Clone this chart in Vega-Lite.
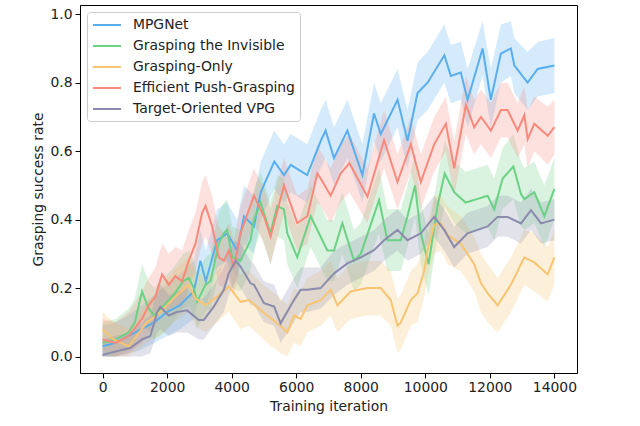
{
  "$schema": "https://vega.github.io/schema/vega-lite/v6.json",
  "width": 497,
  "height": 368,
  "autosize": {"type": "none"},
  "padding": {"left": 80, "top": 5, "right": 63, "bottom": 53},
  "background": "white",
  "datasets": {
    "runs": [
      {"s": "MPGNet", "it": 0, "v": 0.03, "lo": 0.0, "hi": 0.09},
      {"s": "MPGNet", "it": 400, "v": 0.04, "lo": 0.0, "hi": 0.10},
      {"s": "MPGNet", "it": 800, "v": 0.06, "lo": 0.01, "hi": 0.12},
      {"s": "MPGNet", "it": 1200, "v": 0.08, "lo": 0.02, "hi": 0.15},
      {"s": "MPGNet", "it": 1600, "v": 0.10, "lo": 0.04, "hi": 0.18},
      {"s": "MPGNet", "it": 2000, "v": 0.13, "lo": 0.06, "hi": 0.21},
      {"s": "MPGNet", "it": 2400, "v": 0.15, "lo": 0.08, "hi": 0.24},
      {"s": "MPGNet", "it": 2825, "v": 0.19, "lo": 0.11, "hi": 0.28},
      {"s": "MPGNet", "it": 3030, "v": 0.28, "lo": 0.19, "hi": 0.37},
      {"s": "MPGNet", "it": 3200, "v": 0.22, "lo": 0.14, "hi": 0.31},
      {"s": "MPGNet", "it": 3550, "v": 0.34, "lo": 0.26, "hi": 0.43},
      {"s": "MPGNet", "it": 3860, "v": 0.36, "lo": 0.28, "hi": 0.45},
      {"s": "MPGNet", "it": 4170, "v": 0.31, "lo": 0.23, "hi": 0.40},
      {"s": "MPGNet", "it": 4380, "v": 0.41, "lo": 0.33, "hi": 0.50},
      {"s": "MPGNet", "it": 4690, "v": 0.38, "lo": 0.30, "hi": 0.47},
      {"s": "MPGNet", "it": 4900, "v": 0.48, "lo": 0.40, "hi": 0.57},
      {"s": "MPGNet", "it": 5320, "v": 0.57, "lo": 0.49, "hi": 0.66},
      {"s": "MPGNet", "it": 5620, "v": 0.53, "lo": 0.45, "hi": 0.62},
      {"s": "MPGNet", "it": 5830, "v": 0.56, "lo": 0.48, "hi": 0.65},
      {"s": "MPGNet", "it": 6340, "v": 0.53, "lo": 0.45, "hi": 0.62},
      {"s": "MPGNet", "it": 6760, "v": 0.63, "lo": 0.55, "hi": 0.72},
      {"s": "MPGNet", "it": 6910, "v": 0.66, "lo": 0.58, "hi": 0.75},
      {"s": "MPGNet", "it": 7170, "v": 0.58, "lo": 0.50, "hi": 0.67},
      {"s": "MPGNet", "it": 7585, "v": 0.66, "lo": 0.58, "hi": 0.75},
      {"s": "MPGNet", "it": 8050, "v": 0.53, "lo": 0.45, "hi": 0.62},
      {"s": "MPGNet", "it": 8410, "v": 0.71, "lo": 0.63, "hi": 0.80},
      {"s": "MPGNet", "it": 8620, "v": 0.65, "lo": 0.57, "hi": 0.74},
      {"s": "MPGNet", "it": 9140, "v": 0.75, "lo": 0.67, "hi": 0.84},
      {"s": "MPGNet", "it": 9450, "v": 0.63, "lo": 0.55, "hi": 0.72},
      {"s": "MPGNet", "it": 9760, "v": 0.77, "lo": 0.69, "hi": 0.86},
      {"s": "MPGNet", "it": 10070, "v": 0.80, "lo": 0.72, "hi": 0.89},
      {"s": "MPGNet", "it": 10590, "v": 0.88, "lo": 0.80, "hi": 0.97},
      {"s": "MPGNet", "it": 10790, "v": 0.82, "lo": 0.74, "hi": 0.91},
      {"s": "MPGNet", "it": 11100, "v": 0.83, "lo": 0.75, "hi": 0.92},
      {"s": "MPGNet", "it": 11310, "v": 0.75, "lo": 0.67, "hi": 0.84},
      {"s": "MPGNet", "it": 11775, "v": 0.90, "lo": 0.82, "hi": 0.98},
      {"s": "MPGNet", "it": 12030, "v": 0.75, "lo": 0.67, "hi": 0.84},
      {"s": "MPGNet", "it": 12340, "v": 0.885, "lo": 0.80, "hi": 0.97},
      {"s": "MPGNet", "it": 12650, "v": 0.90, "lo": 0.82, "hi": 0.98},
      {"s": "MPGNet", "it": 12760, "v": 0.85, "lo": 0.77, "hi": 0.93},
      {"s": "MPGNet", "it": 13170, "v": 0.80, "lo": 0.72, "hi": 0.89},
      {"s": "MPGNet", "it": 13480, "v": 0.84, "lo": 0.76, "hi": 0.92},
      {"s": "MPGNet", "it": 14000, "v": 0.85, "lo": 0.77, "hi": 0.93},

      {"s": "Grasping the Invisible", "it": 0, "v": 0.04, "lo": 0.0, "hi": 0.10},
      {"s": "Grasping the Invisible", "it": 400, "v": 0.05, "lo": 0.0, "hi": 0.11},
      {"s": "Grasping the Invisible", "it": 800, "v": 0.07, "lo": 0.02, "hi": 0.14},
      {"s": "Grasping the Invisible", "it": 1000, "v": 0.10, "lo": 0.04, "hi": 0.17},
      {"s": "Grasping the Invisible", "it": 1220, "v": 0.19, "lo": 0.11, "hi": 0.27},
      {"s": "Grasping the Invisible", "it": 1430, "v": 0.14, "lo": 0.07, "hi": 0.22},
      {"s": "Grasping the Invisible", "it": 1600, "v": 0.12, "lo": 0.05, "hi": 0.20},
      {"s": "Grasping the Invisible", "it": 1900, "v": 0.15, "lo": 0.07, "hi": 0.23},
      {"s": "Grasping the Invisible", "it": 2200, "v": 0.18, "lo": 0.10, "hi": 0.26},
      {"s": "Grasping the Invisible", "it": 2500, "v": 0.22, "lo": 0.14, "hi": 0.30},
      {"s": "Grasping the Invisible", "it": 2670, "v": 0.23, "lo": 0.15, "hi": 0.31},
      {"s": "Grasping the Invisible", "it": 2825, "v": 0.20, "lo": 0.12, "hi": 0.28},
      {"s": "Grasping the Invisible", "it": 2930, "v": 0.16, "lo": 0.08, "hi": 0.24},
      {"s": "Grasping the Invisible", "it": 3190, "v": 0.21, "lo": 0.13, "hi": 0.29},
      {"s": "Grasping the Invisible", "it": 3343, "v": 0.22, "lo": 0.14, "hi": 0.30},
      {"s": "Grasping the Invisible", "it": 3600, "v": 0.33, "lo": 0.24, "hi": 0.42},
      {"s": "Grasping the Invisible", "it": 3757, "v": 0.36, "lo": 0.27, "hi": 0.45},
      {"s": "Grasping the Invisible", "it": 3860, "v": 0.37, "lo": 0.28, "hi": 0.46},
      {"s": "Grasping the Invisible", "it": 4015, "v": 0.29, "lo": 0.20, "hi": 0.38},
      {"s": "Grasping the Invisible", "it": 4274, "v": 0.28, "lo": 0.19, "hi": 0.37},
      {"s": "Grasping the Invisible", "it": 4584, "v": 0.34, "lo": 0.25, "hi": 0.43},
      {"s": "Grasping the Invisible", "it": 4690, "v": 0.40, "lo": 0.31, "hi": 0.49},
      {"s": "Grasping the Invisible", "it": 4895, "v": 0.45, "lo": 0.36, "hi": 0.54},
      {"s": "Grasping the Invisible", "it": 5200, "v": 0.36, "lo": 0.27, "hi": 0.45},
      {"s": "Grasping the Invisible", "it": 5412, "v": 0.44, "lo": 0.35, "hi": 0.53},
      {"s": "Grasping the Invisible", "it": 5620, "v": 0.43, "lo": 0.34, "hi": 0.52},
      {"s": "Grasping the Invisible", "it": 5723, "v": 0.36, "lo": 0.27, "hi": 0.45},
      {"s": "Grasping the Invisible", "it": 6033, "v": 0.29, "lo": 0.20, "hi": 0.38},
      {"s": "Grasping the Invisible", "it": 6447, "v": 0.41, "lo": 0.32, "hi": 0.50},
      {"s": "Grasping the Invisible", "it": 6964, "v": 0.31, "lo": 0.22, "hi": 0.40},
      {"s": "Grasping the Invisible", "it": 7170, "v": 0.31, "lo": 0.22, "hi": 0.40},
      {"s": "Grasping the Invisible", "it": 7430, "v": 0.39, "lo": 0.30, "hi": 0.48},
      {"s": "Grasping the Invisible", "it": 7790, "v": 0.28, "lo": 0.19, "hi": 0.37},
      {"s": "Grasping the Invisible", "it": 8000, "v": 0.30, "lo": 0.21, "hi": 0.39},
      {"s": "Grasping the Invisible", "it": 8566, "v": 0.457, "lo": 0.36, "hi": 0.55},
      {"s": "Grasping the Invisible", "it": 8826, "v": 0.34, "lo": 0.25, "hi": 0.43},
      {"s": "Grasping the Invisible", "it": 9240, "v": 0.34, "lo": 0.25, "hi": 0.43},
      {"s": "Grasping the Invisible", "it": 9447, "v": 0.41, "lo": 0.32, "hi": 0.50},
      {"s": "Grasping the Invisible", "it": 9680, "v": 0.50, "lo": 0.41, "hi": 0.59},
      {"s": "Grasping the Invisible", "it": 9860, "v": 0.36, "lo": 0.27, "hi": 0.45},
      {"s": "Grasping the Invisible", "it": 10100, "v": 0.27, "lo": 0.18, "hi": 0.36},
      {"s": "Grasping the Invisible", "it": 10378, "v": 0.44, "lo": 0.35, "hi": 0.53},
      {"s": "Grasping the Invisible", "it": 10600, "v": 0.535, "lo": 0.44, "hi": 0.63},
      {"s": "Grasping the Invisible", "it": 10895, "v": 0.48, "lo": 0.39, "hi": 0.57},
      {"s": "Grasping the Invisible", "it": 11250, "v": 0.45, "lo": 0.36, "hi": 0.54},
      {"s": "Grasping the Invisible", "it": 11600, "v": 0.46, "lo": 0.37, "hi": 0.55},
      {"s": "Grasping the Invisible", "it": 11930, "v": 0.47, "lo": 0.38, "hi": 0.56},
      {"s": "Grasping the Invisible", "it": 12136, "v": 0.43, "lo": 0.34, "hi": 0.52},
      {"s": "Grasping the Invisible", "it": 12395, "v": 0.52, "lo": 0.43, "hi": 0.61},
      {"s": "Grasping the Invisible", "it": 12730, "v": 0.555, "lo": 0.46, "hi": 0.65},
      {"s": "Grasping the Invisible", "it": 12964, "v": 0.475, "lo": 0.38, "hi": 0.57},
      {"s": "Grasping the Invisible", "it": 13068, "v": 0.46, "lo": 0.37, "hi": 0.55},
      {"s": "Grasping the Invisible", "it": 13378, "v": 0.48, "lo": 0.39, "hi": 0.57},
      {"s": "Grasping the Invisible", "it": 13688, "v": 0.41, "lo": 0.32, "hi": 0.50},
      {"s": "Grasping the Invisible", "it": 14000, "v": 0.49, "lo": 0.40, "hi": 0.58},

      {"s": "Grasping-Only", "it": 0, "v": 0.08, "lo": 0.02, "hi": 0.13},
      {"s": "Grasping-Only", "it": 340, "v": 0.05, "lo": 0.0, "hi": 0.10},
      {"s": "Grasping-Only", "it": 810, "v": 0.03, "lo": 0.0, "hi": 0.08},
      {"s": "Grasping-Only", "it": 1375, "v": 0.10, "lo": 0.04, "hi": 0.16},
      {"s": "Grasping-Only", "it": 1530, "v": 0.11, "lo": 0.05, "hi": 0.17},
      {"s": "Grasping-Only", "it": 1790, "v": 0.13, "lo": 0.06, "hi": 0.20},
      {"s": "Grasping-Only", "it": 2200, "v": 0.17, "lo": 0.10, "hi": 0.25},
      {"s": "Grasping-Only", "it": 2670, "v": 0.21, "lo": 0.13, "hi": 0.29},
      {"s": "Grasping-Only", "it": 2878, "v": 0.17, "lo": 0.09, "hi": 0.25},
      {"s": "Grasping-Only", "it": 3190, "v": 0.15, "lo": 0.07, "hi": 0.23},
      {"s": "Grasping-Only", "it": 3550, "v": 0.175, "lo": 0.10, "hi": 0.25},
      {"s": "Grasping-Only", "it": 3910, "v": 0.205, "lo": 0.13, "hi": 0.28},
      {"s": "Grasping-Only", "it": 4274, "v": 0.16, "lo": 0.08, "hi": 0.24},
      {"s": "Grasping-Only", "it": 4532, "v": 0.165, "lo": 0.09, "hi": 0.25},
      {"s": "Grasping-Only", "it": 5100, "v": 0.12, "lo": 0.04, "hi": 0.20},
      {"s": "Grasping-Only", "it": 5515, "v": 0.09, "lo": 0.01, "hi": 0.17},
      {"s": "Grasping-Only", "it": 5723, "v": 0.07, "lo": 0.0, "hi": 0.15},
      {"s": "Grasping-Only", "it": 5930, "v": 0.12, "lo": 0.04, "hi": 0.20},
      {"s": "Grasping-Only", "it": 6136, "v": 0.11, "lo": 0.03, "hi": 0.19},
      {"s": "Grasping-Only", "it": 6344, "v": 0.15, "lo": 0.07, "hi": 0.23},
      {"s": "Grasping-Only", "it": 6757, "v": 0.165, "lo": 0.09, "hi": 0.25},
      {"s": "Grasping-Only", "it": 7068, "v": 0.195, "lo": 0.12, "hi": 0.28},
      {"s": "Grasping-Only", "it": 7275, "v": 0.15, "lo": 0.07, "hi": 0.23},
      {"s": "Grasping-Only", "it": 7688, "v": 0.19, "lo": 0.11, "hi": 0.27},
      {"s": "Grasping-Only", "it": 8205, "v": 0.20, "lo": 0.12, "hi": 0.28},
      {"s": "Grasping-Only", "it": 8618, "v": 0.20, "lo": 0.12, "hi": 0.28},
      {"s": "Grasping-Only", "it": 8929, "v": 0.165, "lo": 0.09, "hi": 0.25},
      {"s": "Grasping-Only", "it": 9137, "v": 0.09, "lo": 0.01, "hi": 0.17},
      {"s": "Grasping-Only", "it": 9240, "v": 0.10, "lo": 0.02, "hi": 0.18},
      {"s": "Grasping-Only", "it": 9550, "v": 0.165, "lo": 0.09, "hi": 0.25},
      {"s": "Grasping-Only", "it": 9758, "v": 0.185, "lo": 0.10, "hi": 0.27},
      {"s": "Grasping-Only", "it": 9964, "v": 0.25, "lo": 0.17, "hi": 0.33},
      {"s": "Grasping-Only", "it": 10068, "v": 0.31, "lo": 0.23, "hi": 0.39},
      {"s": "Grasping-Only", "it": 10274, "v": 0.385, "lo": 0.30, "hi": 0.47},
      {"s": "Grasping-Only", "it": 10481, "v": 0.39, "lo": 0.31, "hi": 0.47},
      {"s": "Grasping-Only", "it": 10688, "v": 0.355, "lo": 0.27, "hi": 0.44},
      {"s": "Grasping-Only", "it": 11102, "v": 0.33, "lo": 0.25, "hi": 0.41},
      {"s": "Grasping-Only", "it": 11515, "v": 0.27, "lo": 0.19, "hi": 0.35},
      {"s": "Grasping-Only", "it": 11722, "v": 0.215, "lo": 0.13, "hi": 0.30},
      {"s": "Grasping-Only", "it": 11930, "v": 0.185, "lo": 0.10, "hi": 0.27},
      {"s": "Grasping-Only", "it": 12240, "v": 0.15, "lo": 0.07, "hi": 0.23},
      {"s": "Grasping-Only", "it": 12654, "v": 0.21, "lo": 0.13, "hi": 0.29},
      {"s": "Grasping-Only", "it": 13068, "v": 0.29, "lo": 0.21, "hi": 0.37},
      {"s": "Grasping-Only", "it": 13378, "v": 0.275, "lo": 0.19, "hi": 0.36},
      {"s": "Grasping-Only", "it": 13792, "v": 0.24, "lo": 0.16, "hi": 0.32},
      {"s": "Grasping-Only", "it": 14000, "v": 0.29, "lo": 0.21, "hi": 0.37},

      {"s": "Efficient Push-Grasping", "it": 0, "v": 0.05, "lo": 0.0, "hi": 0.11},
      {"s": "Efficient Push-Grasping", "it": 400, "v": 0.04, "lo": 0.0, "hi": 0.10},
      {"s": "Efficient Push-Grasping", "it": 810, "v": 0.06, "lo": 0.01, "hi": 0.13},
      {"s": "Efficient Push-Grasping", "it": 1220, "v": 0.11, "lo": 0.04, "hi": 0.19},
      {"s": "Efficient Push-Grasping", "it": 1430, "v": 0.15, "lo": 0.07, "hi": 0.23},
      {"s": "Efficient Push-Grasping", "it": 1635, "v": 0.175, "lo": 0.09, "hi": 0.26},
      {"s": "Efficient Push-Grasping", "it": 1845, "v": 0.24, "lo": 0.15, "hi": 0.33},
      {"s": "Efficient Push-Grasping", "it": 2050, "v": 0.21, "lo": 0.13, "hi": 0.30},
      {"s": "Efficient Push-Grasping", "it": 2256, "v": 0.235, "lo": 0.15, "hi": 0.32},
      {"s": "Efficient Push-Grasping", "it": 2465, "v": 0.22, "lo": 0.14, "hi": 0.31},
      {"s": "Efficient Push-Grasping", "it": 2670, "v": 0.28, "lo": 0.20, "hi": 0.37},
      {"s": "Efficient Push-Grasping", "it": 2878, "v": 0.33, "lo": 0.25, "hi": 0.42},
      {"s": "Efficient Push-Grasping", "it": 3085, "v": 0.42, "lo": 0.33, "hi": 0.51},
      {"s": "Efficient Push-Grasping", "it": 3190, "v": 0.44, "lo": 0.35, "hi": 0.53},
      {"s": "Efficient Push-Grasping", "it": 3395, "v": 0.38, "lo": 0.30, "hi": 0.47},
      {"s": "Efficient Push-Grasping", "it": 3600, "v": 0.29, "lo": 0.21, "hi": 0.38},
      {"s": "Efficient Push-Grasping", "it": 3760, "v": 0.28, "lo": 0.20, "hi": 0.36},
      {"s": "Efficient Push-Grasping", "it": 3910, "v": 0.31, "lo": 0.23, "hi": 0.39},
      {"s": "Efficient Push-Grasping", "it": 4070, "v": 0.26, "lo": 0.18, "hi": 0.34},
      {"s": "Efficient Push-Grasping", "it": 4275, "v": 0.36, "lo": 0.28, "hi": 0.44},
      {"s": "Efficient Push-Grasping", "it": 4690, "v": 0.47, "lo": 0.39, "hi": 0.55},
      {"s": "Efficient Push-Grasping", "it": 5000, "v": 0.41, "lo": 0.33, "hi": 0.49},
      {"s": "Efficient Push-Grasping", "it": 5205, "v": 0.35, "lo": 0.27, "hi": 0.43},
      {"s": "Efficient Push-Grasping", "it": 5620, "v": 0.50, "lo": 0.42, "hi": 0.58},
      {"s": "Efficient Push-Grasping", "it": 6033, "v": 0.39, "lo": 0.31, "hi": 0.47},
      {"s": "Efficient Push-Grasping", "it": 6344, "v": 0.41, "lo": 0.33, "hi": 0.49},
      {"s": "Efficient Push-Grasping", "it": 6654, "v": 0.535, "lo": 0.45, "hi": 0.62},
      {"s": "Efficient Push-Grasping", "it": 6757, "v": 0.52, "lo": 0.44, "hi": 0.60},
      {"s": "Efficient Push-Grasping", "it": 7068, "v": 0.47, "lo": 0.39, "hi": 0.55},
      {"s": "Efficient Push-Grasping", "it": 7378, "v": 0.535, "lo": 0.45, "hi": 0.62},
      {"s": "Efficient Push-Grasping", "it": 7650, "v": 0.565, "lo": 0.48, "hi": 0.65},
      {"s": "Efficient Push-Grasping", "it": 8205, "v": 0.467, "lo": 0.39, "hi": 0.55},
      {"s": "Efficient Push-Grasping", "it": 8722, "v": 0.632, "lo": 0.55, "hi": 0.72},
      {"s": "Efficient Push-Grasping", "it": 9137, "v": 0.51, "lo": 0.43, "hi": 0.59},
      {"s": "Efficient Push-Grasping", "it": 9550, "v": 0.62, "lo": 0.54, "hi": 0.70},
      {"s": "Efficient Push-Grasping", "it": 9860, "v": 0.51, "lo": 0.43, "hi": 0.59},
      {"s": "Efficient Push-Grasping", "it": 10274, "v": 0.62, "lo": 0.54, "hi": 0.70},
      {"s": "Efficient Push-Grasping", "it": 10636, "v": 0.68, "lo": 0.60, "hi": 0.76},
      {"s": "Efficient Push-Grasping", "it": 10895, "v": 0.55, "lo": 0.47, "hi": 0.63},
      {"s": "Efficient Push-Grasping", "it": 11257, "v": 0.735, "lo": 0.65, "hi": 0.82},
      {"s": "Efficient Push-Grasping", "it": 11515, "v": 0.67, "lo": 0.59, "hi": 0.75},
      {"s": "Efficient Push-Grasping", "it": 11722, "v": 0.70, "lo": 0.62, "hi": 0.78},
      {"s": "Efficient Push-Grasping", "it": 12033, "v": 0.66, "lo": 0.58, "hi": 0.74},
      {"s": "Efficient Push-Grasping", "it": 12343, "v": 0.72, "lo": 0.64, "hi": 0.80},
      {"s": "Efficient Push-Grasping", "it": 12550, "v": 0.72, "lo": 0.64, "hi": 0.80},
      {"s": "Efficient Push-Grasping", "it": 12860, "v": 0.66, "lo": 0.58, "hi": 0.74},
      {"s": "Efficient Push-Grasping", "it": 13068, "v": 0.705, "lo": 0.62, "hi": 0.79},
      {"s": "Efficient Push-Grasping", "it": 13172, "v": 0.635, "lo": 0.55, "hi": 0.72},
      {"s": "Efficient Push-Grasping", "it": 13378, "v": 0.68, "lo": 0.60, "hi": 0.76},
      {"s": "Efficient Push-Grasping", "it": 13792, "v": 0.645, "lo": 0.56, "hi": 0.73},
      {"s": "Efficient Push-Grasping", "it": 14000, "v": 0.67, "lo": 0.59, "hi": 0.75},

      {"s": "Target-Oriented VPG", "it": 0, "v": 0.005, "lo": 0.0, "hi": 0.05},
      {"s": "Target-Oriented VPG", "it": 400, "v": 0.015, "lo": 0.0, "hi": 0.06},
      {"s": "Target-Oriented VPG", "it": 860, "v": 0.025, "lo": 0.0, "hi": 0.07},
      {"s": "Target-Oriented VPG", "it": 1220, "v": 0.05, "lo": 0.0, "hi": 0.10},
      {"s": "Target-Oriented VPG", "it": 1480, "v": 0.06, "lo": 0.01, "hi": 0.12},
      {"s": "Target-Oriented VPG", "it": 1690, "v": 0.13, "lo": 0.07, "hi": 0.19},
      {"s": "Target-Oriented VPG", "it": 1790, "v": 0.145, "lo": 0.08, "hi": 0.21},
      {"s": "Target-Oriented VPG", "it": 2050, "v": 0.12, "lo": 0.06, "hi": 0.18},
      {"s": "Target-Oriented VPG", "it": 2300, "v": 0.13, "lo": 0.07, "hi": 0.19},
      {"s": "Target-Oriented VPG", "it": 2620, "v": 0.135, "lo": 0.07, "hi": 0.20},
      {"s": "Target-Oriented VPG", "it": 2980, "v": 0.107, "lo": 0.05, "hi": 0.17},
      {"s": "Target-Oriented VPG", "it": 3135, "v": 0.107, "lo": 0.05, "hi": 0.17},
      {"s": "Target-Oriented VPG", "it": 3445, "v": 0.146, "lo": 0.09, "hi": 0.21},
      {"s": "Target-Oriented VPG", "it": 3757, "v": 0.195, "lo": 0.13, "hi": 0.26},
      {"s": "Target-Oriented VPG", "it": 3910, "v": 0.243, "lo": 0.18, "hi": 0.31},
      {"s": "Target-Oriented VPG", "it": 4120, "v": 0.28, "lo": 0.22, "hi": 0.34},
      {"s": "Target-Oriented VPG", "it": 4274, "v": 0.263, "lo": 0.20, "hi": 0.33},
      {"s": "Target-Oriented VPG", "it": 4584, "v": 0.214, "lo": 0.15, "hi": 0.28},
      {"s": "Target-Oriented VPG", "it": 4690, "v": 0.21, "lo": 0.15, "hi": 0.27},
      {"s": "Target-Oriented VPG", "it": 5000, "v": 0.156, "lo": 0.10, "hi": 0.22},
      {"s": "Target-Oriented VPG", "it": 5317, "v": 0.146, "lo": 0.09, "hi": 0.21},
      {"s": "Target-Oriented VPG", "it": 5515, "v": 0.097, "lo": 0.04, "hi": 0.16},
      {"s": "Target-Oriented VPG", "it": 5930, "v": 0.165, "lo": 0.10, "hi": 0.23},
      {"s": "Target-Oriented VPG", "it": 6136, "v": 0.195, "lo": 0.13, "hi": 0.26},
      {"s": "Target-Oriented VPG", "it": 6344, "v": 0.195, "lo": 0.13, "hi": 0.26},
      {"s": "Target-Oriented VPG", "it": 6757, "v": 0.20, "lo": 0.14, "hi": 0.26},
      {"s": "Target-Oriented VPG", "it": 7170, "v": 0.243, "lo": 0.18, "hi": 0.31},
      {"s": "Target-Oriented VPG", "it": 7585, "v": 0.272, "lo": 0.21, "hi": 0.33},
      {"s": "Target-Oriented VPG", "it": 8000, "v": 0.29, "lo": 0.23, "hi": 0.35},
      {"s": "Target-Oriented VPG", "it": 8412, "v": 0.311, "lo": 0.25, "hi": 0.37},
      {"s": "Target-Oriented VPG", "it": 8722, "v": 0.34, "lo": 0.28, "hi": 0.40},
      {"s": "Target-Oriented VPG", "it": 9137, "v": 0.37, "lo": 0.31, "hi": 0.43},
      {"s": "Target-Oriented VPG", "it": 9447, "v": 0.34, "lo": 0.28, "hi": 0.40},
      {"s": "Target-Oriented VPG", "it": 9860, "v": 0.36, "lo": 0.30, "hi": 0.42},
      {"s": "Target-Oriented VPG", "it": 10274, "v": 0.408, "lo": 0.35, "hi": 0.47},
      {"s": "Target-Oriented VPG", "it": 10585, "v": 0.37, "lo": 0.31, "hi": 0.43},
      {"s": "Target-Oriented VPG", "it": 10895, "v": 0.32, "lo": 0.26, "hi": 0.38},
      {"s": "Target-Oriented VPG", "it": 11309, "v": 0.36, "lo": 0.30, "hi": 0.42},
      {"s": "Target-Oriented VPG", "it": 11930, "v": 0.38, "lo": 0.32, "hi": 0.44},
      {"s": "Target-Oriented VPG", "it": 12240, "v": 0.408, "lo": 0.35, "hi": 0.47},
      {"s": "Target-Oriented VPG", "it": 12550, "v": 0.408, "lo": 0.35, "hi": 0.47},
      {"s": "Target-Oriented VPG", "it": 12964, "v": 0.389, "lo": 0.33, "hi": 0.45},
      {"s": "Target-Oriented VPG", "it": 13275, "v": 0.428, "lo": 0.37, "hi": 0.49},
      {"s": "Target-Oriented VPG", "it": 13585, "v": 0.389, "lo": 0.33, "hi": 0.45},
      {"s": "Target-Oriented VPG", "it": 14000, "v": 0.40, "lo": 0.34, "hi": 0.46}
    ]
  },
  "data": {"name": "runs"},
  "encoding": {
    "x": {
      "field": "it",
      "type": "quantitative",
      "scale": {"domain": [-700, 14700], "nice": false, "zero": false},
      "axis": {
        "title": "Training iteration",
        "values": [0, 2000, 4000, 6000, 8000, 10000, 12000, 14000],
        "format": "d"
      }
    },
    "color": {
      "field": "s",
      "type": "nominal",
      "scale": {
        "domain": ["MPGNet", "Grasping the Invisible", "Grasping-Only", "Efficient Push-Grasping", "Target-Oriented VPG"],
        "range": ["#58aeee", "#6bd184", "#f8c471", "#f9897a", "#8b8bac"]
      },
      "legend": {
        "title": null,
        "orient": "none",
        "legendX": 7,
        "legendY": 7,
        "symbolType": "M-1,0H3",
        "symbolSize": 196,
        "symbolStrokeWidth": 2,
        "symbolOpacity": 1,
        "labelFontSize": 13.9,
        "labelFont": "DejaVu Sans",
        "labelColor": "#222",
        "labelOffset": 25,
        "labelLimit": 400,
        "rowPadding": 6,
        "padding": 5,
        "fillColor": "rgba(255,255,255,0.8)",
        "strokeColor": "#cccccc",
        "cornerRadius": 3
      }
    }
  },
  "layer": [
    {
      "mark": {"type": "area", "opacity": 0.25, "clip": true},
      "encoding": {
        "y": {"field": "lo", "type": "quantitative"},
        "y2": {"field": "hi"}
      }
    },
    {
      "mark": {"type": "line", "strokeWidth": 2, "clip": true},
      "encoding": {
        "y": {
          "field": "v",
          "type": "quantitative",
          "scale": {"domain": [-0.048, 1.027], "nice": false, "zero": false},
          "axis": {
            "title": "Grasping success rate",
            "values": [0, 0.2, 0.4, 0.6, 0.8, 1.0],
            "format": ".1f"
          }
        }
      }
    }
  ],
  "config": {
    "font": "DejaVu Sans",
    "view": {"stroke": "black", "strokeWidth": 1},
    "axis": {
      "grid": false,
      "domainColor": "black",
      "tickColor": "black",
      "tickSize": 4.9,
      "labelFontSize": 13.9,
      "labelColor": "#222",
      "labelPadding": 3,
      "titleFontSize": 13.9,
      "titleFontWeight": "normal",
      "titleColor": "#222",
      "titlePadding": 5
    }
  }
}
